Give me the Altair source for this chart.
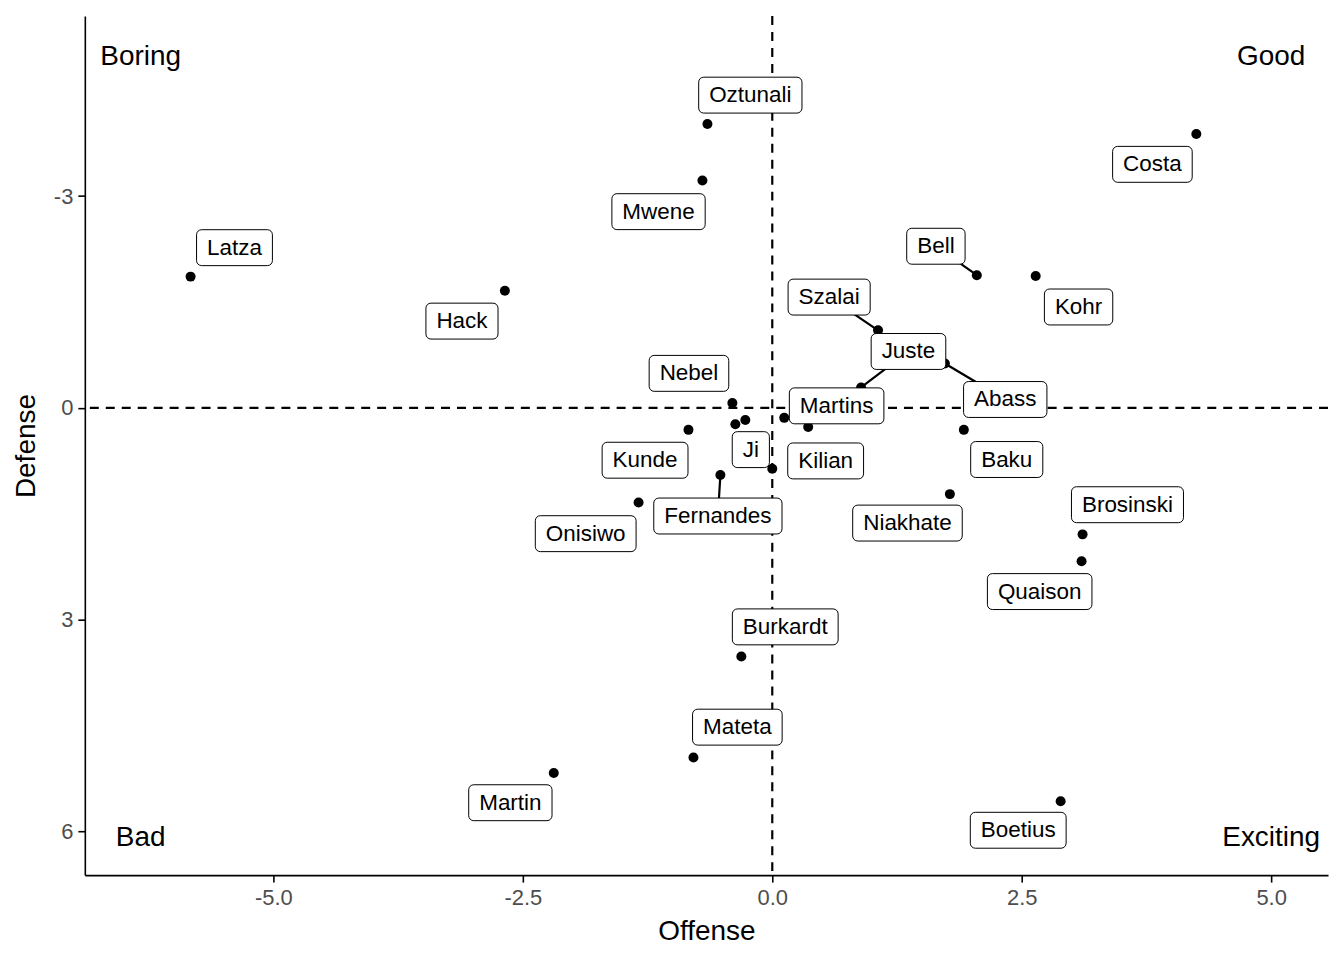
import altair as alt
import pandas as pd

# ---------------- data ----------------
players = ["Oztunali", "Mwene", "Latza", "Hack", "Costa", "Bell", "Kohr", "Szalai",
           "Abass", "Juste", "Martins", "Kilian", "Ji", "Nebel", "Kunde", "Fernandes",
           "Onisiwo", "Baku", "Niakhate", "Brosinski", "Quaison", "Burkardt", "Mateta",
           "Martin", "Boetius", "", ""]
offense = [-0.65, -0.70, -5.83, -2.68, 4.25, 2.05, 2.64, 1.06,
           1.73, 0.89, 0.12, 0.36, -0.27, -0.40, -0.84, -0.52,
           -1.34, 1.92, 1.78, 3.11, 3.10, -0.31, -0.79,
           -2.19, 2.89, -0.37, 0.00]
defense = [-4.02, -3.22, -1.86, -1.66, -3.88, -1.88, -1.87, -1.10,
           -0.63, -0.29, 0.14, 0.27, 0.17, -0.07, 0.31, 0.95,
           1.34, 0.31, 1.22, 1.79, 2.17, 3.52, 4.95,
           5.17, 5.57, 0.23, 0.86]

# repelled label positions (centre of each label box)
label_x = [-0.22, -1.14, -5.39, -3.11, 3.81, 1.64, 3.07, 0.57,
           2.335, 1.365, 0.645, 0.535, -0.215, -0.835, -1.275, -0.545,
           -1.87, 2.35, 1.355, 3.56, 2.68, 0.13, -0.35,
           -2.625, 2.465, None, None]
label_y = [-4.43, -2.78, -2.27, -1.23, -3.45, -2.29, -1.43, -1.57,
           -0.12, -0.80, -0.03, 0.75, 0.59, -0.49, 0.74, 1.53,
           1.78, 0.73, 1.63, 1.37, 2.60, 3.10, 4.52,
           5.59, 5.98, None, None]
with_segment = ["Bell", "Szalai", "Juste", "Abass", "Fernandes"]

quadrant_text = ["Boring", "Good", "Bad", "Exciting"]
quadrant_x = [-6.33, 5.0, -6.33, 5.0]
quadrant_y = [-4.97, -4.97, 6.09, 6.09]

x_ticks = [-5.0, -2.5, 0.0, 2.5, 5.0]
y_ticks = [-3, 0, 3, 6]

# ---------------- layout ----------------
W, H = 1246, 861
XMIN, XMAX = -6.89, 5.57
YMIN, YMAX = -5.55, 6.615
FONT = "Liberation Sans"
LABEL_SIZE = 22.5

px_x = W / (XMAX - XMIN)
px_y = H / (YMAX - YMIN)

ARIAL = dict(zip("ABCDEFGHIJKLMNOPQRSTUVWXYZ",
                 [667, 667, 722, 722, 667, 611, 778, 722, 278, 500, 667, 556, 833,
                  722, 778, 667, 778, 722, 667, 611, 722, 667, 944, 667, 667, 611]))
ARIAL.update(dict(zip("abcdefghijklmnopqrstuvwxyz",
                      [556, 556, 500, 556, 556, 278, 556, 556, 222, 222, 500, 222, 833,
                       556, 556, 556, 556, 333, 500, 278, 556, 500, 722, 500, 500, 500])))


def text_px(s, size):
    return sum(ARIAL.get(c, 556) for c in s) * size / 1000.0


pts = pd.DataFrame({"player": players, "offense": offense, "defense": defense,
                    "lx": label_x, "ly": label_y})
lab = pts[pts["player"] != ""].copy()
half_w = lab["player"].apply(lambda s: (text_px(s, LABEL_SIZE) + 21) / 2 / px_x)
half_h = 36 / 2 / px_y
lab["x1"] = lab["lx"] - half_w
lab["x2"] = lab["lx"] + half_w
lab["y1"] = lab["ly"] - half_h
lab["y2"] = lab["ly"] + half_h
seg = lab[lab["player"].isin(with_segment)]

quad = pd.DataFrame({"t": quadrant_text, "x": quadrant_x, "y": quadrant_y})
zero = pd.DataFrame({"z": [0.0]})

x_scale = alt.Scale(domain=[XMIN, XMAX], nice=False, zero=False)
y_scale = alt.Scale(domain=[YMIN, YMAX], nice=False, zero=False, reverse=True)
x_axis = alt.Axis(values=x_ticks, title="Offense",
                  labelExpr="(datum.value < 0 ? '-' : '') + format(abs(datum.value), '.1f')")
y_axis = alt.Axis(values=y_ticks, title="Defense",
                  labelExpr="(datum.value < 0 ? '-' : '') + format(abs(datum.value), 'd')")


def X(f):
    return alt.X(f, type="quantitative", scale=x_scale, axis=x_axis, title="Offense")


def Y(f):
    return alt.Y(f, type="quantitative", scale=y_scale, axis=y_axis, title="Defense")


vline = alt.Chart(zero).mark_rule(color="black", strokeWidth=2.2, strokeDash=[9, 7]).encode(x=X("z"))
hline = alt.Chart(zero).mark_rule(color="black", strokeWidth=2.2, strokeDash=[9, 7]).encode(y=Y("z"))

segments = alt.Chart(seg).mark_rule(color="black", strokeWidth=2.2).encode(
    x=X("offense"), y=Y("defense"), x2="lx", y2="ly")

points = alt.Chart(pts).mark_circle(color="black", opacity=1, size=100).encode(
    x=X("offense"), y=Y("defense"))

boxes = alt.Chart(lab).mark_rect(fill="white", stroke="black", strokeWidth=1,
                                 cornerRadius=5).encode(
    x=X("x1"), x2="x2", y=Y("y1"), y2="y2")

texts = alt.Chart(lab).mark_text(font=FONT, fontSize=LABEL_SIZE, color="black",
                                 align="center", baseline="middle").encode(
    x=X("lx"), y=Y("ly"), text="player:N")

quads = alt.Chart(quad).mark_text(font=FONT, fontSize=28, color="black",
                                  align="center", baseline="middle").encode(
    x=X("x"), y=Y("y"), text="t:N")

chart = alt.layer(vline, hline, segments, points, boxes, texts, quads).properties(
    width=W, height=H,
    autosize=alt.AutoSizeParams(type="none"),
    padding={"left": 77, "top": 7, "right": 8, "bottom": 70},
    background="white",
).configure_view(stroke=None).configure_axis(
    grid=False,
    domainColor="black", domainWidth=1.6,
    tickColor="black", tickWidth=1.6, tickSize=7,
    labelFont=FONT, labelFontSize=22, labelColor="#4D4D4D", labelPadding=5,
    titleFont=FONT, titleFontSize=28, titleFontWeight="normal", titleColor="black",
).configure_axisX(titlePadding=10).configure_axisY(titlePadding=13)

chart.save("out.html", embed_options={"renderer": "svg", "actions": False})
